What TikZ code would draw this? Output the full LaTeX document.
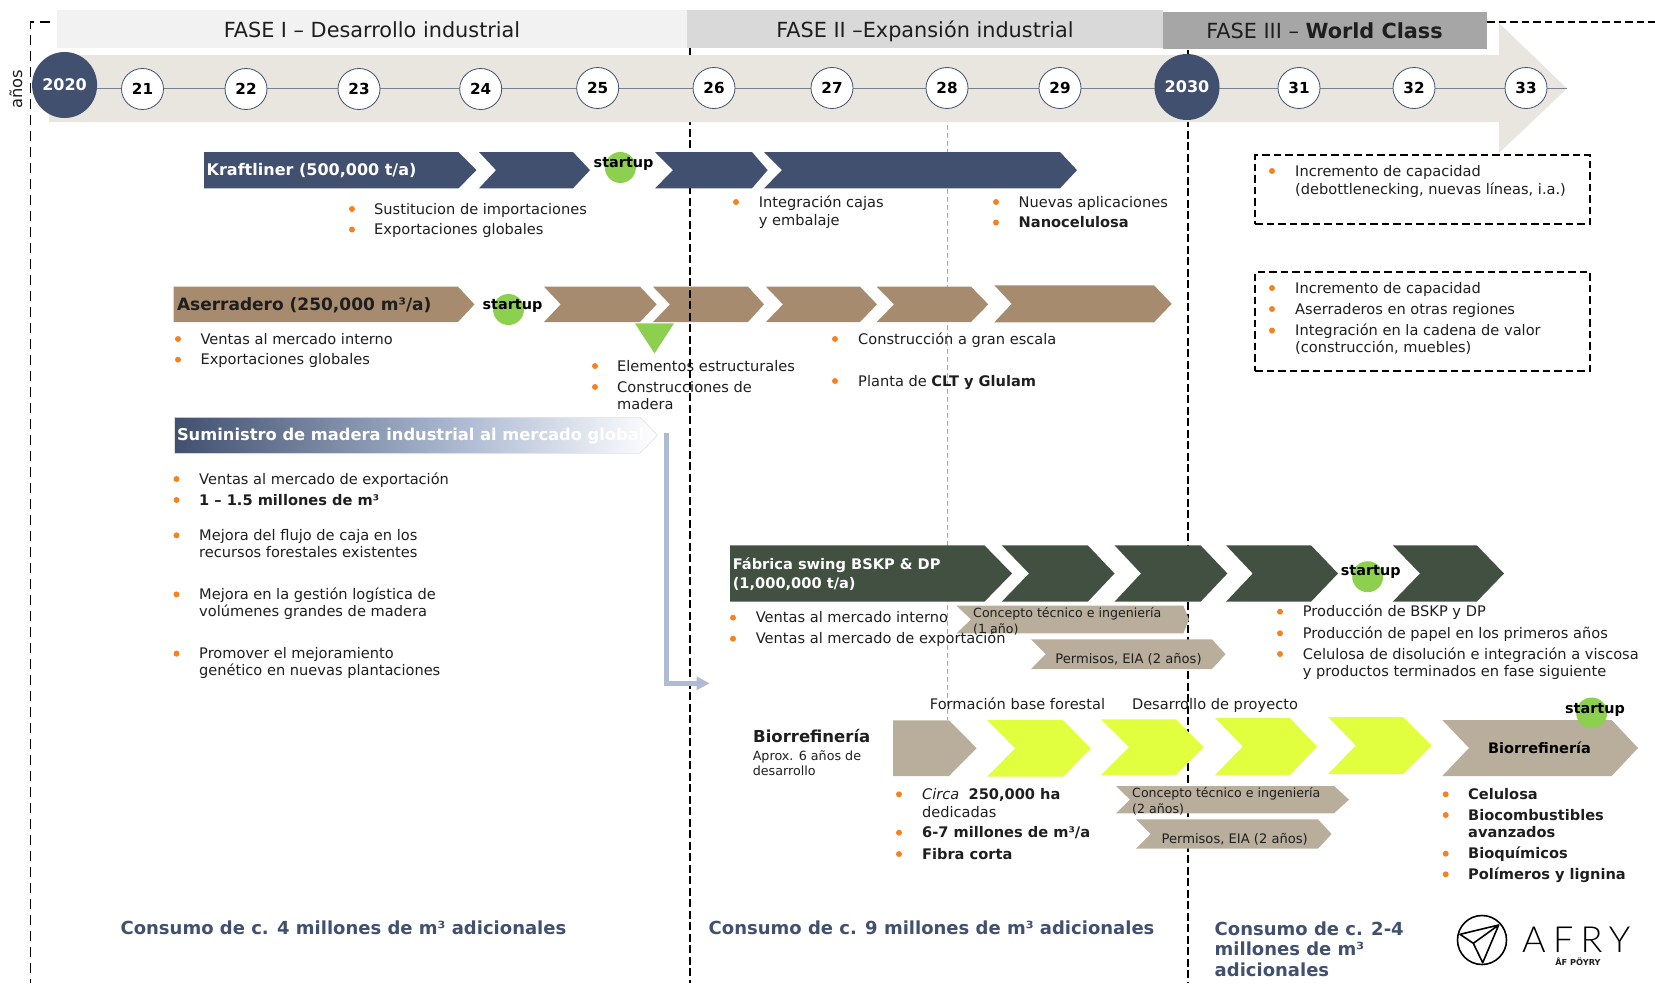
\documentclass[tikz,border=0pt]{standalone}
\usepackage{fontspec}
\setmainfont{DejaVu Sans}
\newfontfamily\afryfont[LetterSpace=20]{Lato Light}
\usetikzlibrary{arrows.meta,shapes.geometric}
\definecolor{navy}{HTML}{41506F}
\definecolor{wood}{HTML}{A78B6E}
\definecolor{forest}{HTML}{415041}
\definecolor{tan}{HTML}{B9AE9C}
\definecolor{lime}{HTML}{E2FF3F}
\definecolor{leaf}{HTML}{8DCF4F}
\definecolor{orangedot}{HTML}{F58220}
\definecolor{sand}{HTML}{E8E6DF}
\definecolor{steel}{HTML}{AEBBD3}
\definecolor{ink}{HTML}{1E1E1E}
\pgfdeclarehorizontalshading{sumshade}{100bp}{color(0bp)=(navy); color(25bp)=(navy); color(55bp)=(steel); color(75bp)=(white); color(100bp)=(white)}
\newcounter{dotc}\newcounter{txtc}
\newcommand{\chv}[8]{\fill[#8] (#2,#6) -- (#4,#6) -- (#5,{(#6+#7)/2}) -- (#4,#7) -- (#2,#7) -- (#3,{(#6+#7)/2}) -- cycle; \coordinate (#1) at ({(#2+#5)/2},{(#6+#7)/2});}
\newcommand{\bl}[2]{\stepcounter{dotc}\node[bulletdot] (dot\thedotc) at (#1,#2) {};}
\newcommand{\tx}[4][bodytxt]{\stepcounter{txtc}\node[#1,anchor=base west] (txt\thetxtc) at (#2,{#3+5}) {#4};}
\newcommand{\yr}[3]{\node[yearnode] (y#3) at (#1,#2) {#3};}
\tikzset{
 bulletdot/.style={circle,fill=orangedot,minimum size=6pt,inner sep=0pt},
 bodytxt/.style={inner sep=0pt,text=ink,font=\fontsize{14.6}{16}\selectfont},
 smalltxt/.style={inner sep=0pt,text=ink,font=\fontsize{12.6}{15}\selectfont},
 permtxt/.style={inner sep=0pt,text=ink,font=\fontsize{13.1}{15}\selectfont},
 tinytxt/.style={inner sep=0pt,text=ink,font=\fontsize{12.7}{14}\selectfont},
 headtxt/.style={inner sep=0pt,text=ink,font=\fontsize{17}{18}\selectfont\bfseries},
 biotxt/.style={inner sep=0pt,text=ink,font=\fontsize{16.5}{18}\selectfont\bfseries},
 whitetxt/.style={inner sep=0pt,text=white,font=\fontsize{14.6}{18}\selectfont\bfseries},
 krafttxt/.style={inner sep=0pt,text=white,font=\fontsize{16}{18}\selectfont\bfseries},
 sumtxt/.style={inner sep=0pt,text=white,font=\fontsize{16.3}{18}\selectfont\bfseries},
 phasetxt/.style={inner sep=0pt,text=ink,font=\fontsize{20.8}{22}\selectfont},
 bottxt/.style={inner sep=0pt,text=navy,font=\fontsize{18}{20}\selectfont\bfseries},
 starttxt/.style={inner sep=0pt,text=black,font=\fontsize{14.4}{16}\selectfont\bfseries},
 yearnode/.style={ellipse,draw=navy,line width=0.8pt,fill=white,minimum width=42pt,minimum height=41pt,inner sep=0pt,text=black,font=\fontsize{15.2}{18}\selectfont\bfseries},
 bigyear/.style={ellipse,fill=navy,minimum width=65pt,minimum height=66pt,inner sep=0pt,text=white,font=\fontsize{16}{18}\selectfont\bfseries},
 leafdot/.style={ellipse,fill=leaf,inner sep=0pt,minimum width=31pt,minimum height=31pt},
 kraftfill/.style={fill=navy},
 woodfill/.style={fill=wood},
 forestfill/.style={fill=forest},
 tanfill/.style={fill=tan},
 limefill/.style={fill=lime},
 bigdash/.style={draw=black,line width=1.7pt,dash pattern=on 8pt off 3.5pt},
 leftdash/.style={draw=black,line width=1.3pt,dash pattern=on 10pt off 6pt},
 boxdash/.style={draw=black,line width=1.5pt,dash pattern=on 7.5pt off 4pt},
 greydash/.style={draw=black!35,line width=0.8pt,dash pattern=on 5pt off 3pt},
}
\begin{document}
\begin{tikzpicture}[x=1pt,y=-1pt]
\useasboundingbox (0,0) rectangle (1655,983);
% guide lines lying under the wood chevrons
\coordinate (g28top) at (947,109);
\coordinate (g28bot) at (947,720);
\draw[greydash] (g28top) -- (g28bot);
% Aserradero row
\chv{as1}{173.7}{173.7}{458}{474.5}{286.7}{322}{woodfill}
\chv{as2}{544}{560.7}{640}{656.7}{286.7}{322}{woodfill}
\chv{as3}{653}{670}{748}{764}{286.7}{322}{woodfill}
\chv{as4}{766}{783}{860}{877}{286.7}{322}{woodfill}
\chv{as5}{876.7}{894}{971}{988.3}{286.7}{322}{woodfill}
\chv{as6}{994.3}{1011.7}{1154}{1171.7}{285.3}{322.3}{woodfill}
\node[isosceles triangle,shape border rotate=-90,isosceles triangle stretches,fill=leaf,inner sep=0pt,minimum width=39pt,minimum height=30pt,anchor=apex] (astri) at (654.5,354) {};
\node[leafdot] (asstart) at (508.5,309.5) {};
\node[starttxt] (asstartt) at (512.5,306) {startup};
\tx[headtxt]{176.8}{305}{Aserradero (250,000 m³/a)}
% texts crossed by the phase lines
\bl{595}{366}\tx{617}{366}{Elementos estructurales}
\bl{595}{387}\tx{617}{387}{Construcciones de}
\tx{617}{404.7}{madera}
\bl{835}{339}\tx{858}{339}{Construcción a gran escala}
\bl{835}{381}\tx{858}{381}{Planta de \textbf{CLT y Glulam}}
\tx{929.7}{704}{Formación base forestal}
\tx{1131.8}{704}{Desarrollo de proyecto}
% phase lines
\coordinate (p2top) at (690,48);\coordinate (p2bot) at (690,983);
\coordinate (p3top) at (1188,50);\coordinate (p3bot) at (1188,983);
\coordinate (lefttop) at (50,22);\coordinate (leftcorner) at (30.7,22);\coordinate (leftbot) at (30.7,983);
\coordinate (righta) at (1487,22);\coordinate (rightb) at (1655,22);
\draw[leftdash] (lefttop) -- (leftcorner) -- (leftbot);
\draw[boxdash] (righta) -- (rightb);
\draw[bigdash] (p2top) -- (p2bot);
\draw[bigdash] (p3top) -- (p3bot);
% phases
\fill[fill=black!5] (56.6,10) rectangle (687,48);
\fill[fill=black!15] (687,10) rectangle (1162.5,48);
\fill[fill=black!35] (1162.5,12) rectangle (1487,49);
\node[phasetxt,anchor=base] (f1) at (372,37) {FASE I – Desarrollo industrial};
\node[phasetxt,anchor=base] (f2) at (925,37) {FASE II –Expansión industrial};
\node[phasetxt,anchor=base] (f3) at (1324.5,38.5) {FASE III – \textbf{World Class}};
% big arrow
\fill[sand] (49,55) -- (1499,55) -- (1499,23) -- (1567,88.5) -- (1499,153) -- (1499,122) -- (49,122) -- cycle;
\coordinate (lineend) at (1567,88.5);
\node[bigyear] (y2020) at (64.6,85) {2020};
\draw[color=black!45!navy!60!white,line width=1.1pt] (y2020.east |- lineend) -- (lineend);
\node[rotate=90,inner sep=0pt,text=ink,font=\fontsize{16.3}{18}\selectfont] (anos) at (16,89) {años};
\node[bigyear] (y2030) at (1187,87) {2030};
\yr{142.5}{89}{21}\yr{246}{89}{22}\yr{359}{89}{23}\yr{480.7}{89}{24}\yr{597.7}{88}{25}\yr{714}{88}{26}\yr{832}{88}{27}\yr{947}{88}{28}\yr{1060}{88}{29}\yr{1299}{88}{31}\yr{1414}{88}{32}\yr{1526}{88}{33}
% Kraftliner
\chv{kr1}{204}{204}{458.5}{476.5}{152}{188.3}{kraftfill}
\chv{kr2}{479}{496}{573}{590}{152}{188.3}{kraftfill}
\chv{kr3}{655}{673}{752}{767.6}{152}{188.3}{kraftfill}
\chv{kr4}{764}{782}{1060}{1077}{152}{188.3}{kraftfill}
\node[leafdot] (krstart) at (620.4,167.5) {};
\node[starttxt] (krstartt) at (623.6,164) {startup};
\tx[krafttxt]{206.5}{170}{Kraftliner (500,000 t/a)}
\bl{352}{209}\tx{374}{209}{Sustitucion de importaciones}
\bl{352}{229.5}\tx{374}{229.5}{Exportaciones globales}
\bl{736}{202}\tx{758.6}{202}{Integración cajas}
\tx{758.6}{220}{y embalaje}
\bl{996}{202}\tx{1018.5}{202}{Nuevas aplicaciones}
\bl{996}{222.5}\tx{1018.5}{222.5}{\textbf{Nanocelulosa}}
% dashed boxes
\node[boxdash,rectangle,minimum width=335pt,minimum height=69pt,anchor=north west,inner sep=0pt,outer sep=0pt] (box1) at (1255,155) {};
\bl{1272}{171}\tx{1295}{171}{Incremento de capacidad}
\tx{1295}{189}{(debottlenecking, nuevas líneas, i.a.)}
\node[boxdash,rectangle,minimum width=335pt,minimum height=99pt,anchor=north west,inner sep=0pt,outer sep=0pt] (box2) at (1255,272) {};
\bl{1272}{288}\tx{1295}{288}{Incremento de capacidad}
\bl{1272}{309}\tx{1295}{309}{Aserraderos en otras regiones}
\bl{1272}{330.5}\tx{1295}{330.5}{Integración en la cadena de valor}
\tx{1295}{347}{(construcción, muebles)}
% Aserradero bullets
\bl{178}{339}\tx{200.4}{339}{Ventas al mercado interno}
\bl{178}{359.7}\tx{200.4}{359.7}{Exportaciones globales}
% Suministro
\path[shading=sumshade,draw=black!12,line width=0.6pt] (174.5,417.3) -- (640,417.3) -- (657.6,435.3) -- (640,453.3) -- (174.5,453.3) -- cycle;
\tx[sumtxt]{176.8}{435.7}{Suministro de madera industrial al mercado global}
\coordinate (sumout) at (666.5,432.7);
\coordinate (sumin) at (709.6,683.3);
\draw[steel,line width=4.5pt,-{Triangle[length=13pt,width=13pt]}] (sumout) |- (sumin);
\bl{176.5}{479}\tx{199}{479}{Ventas al mercado de exportación}
\bl{176.5}{500}\tx{199}{500}{\textbf{1 – 1.5 millones de m³}}
\bl{176.5}{535.3}\tx{199}{535.3}{Mejora del flujo de caja en los}
\tx{199}{552.2}{recursos forestales existentes}
\bl{176.5}{594.4}\tx{199}{594.4}{Mejora en la gestión logística de}
\tx{199}{611.3}{volúmenes grandes de madera}
\bl{176.5}{653.6}\tx{199}{653.6}{Promover el mejoramiento}
\tx{199}{670.5}{genético en nuevas plantaciones}
% Fabrica
\chv{fa1}{730}{730}{984.4}{1012}{545.3}{601.7}{forestfill}
\chv{fa2}{1001.7}{1029}{1087.8}{1114.5}{545.3}{601.7}{forestfill}
\chv{fa3}{1114.5}{1141}{1200.6}{1227.4}{545.3}{601.7}{forestfill}
\chv{fa4}{1226}{1252.7}{1311}{1338}{545.3}{601.7}{forestfill}
\chv{fa5}{1392.7}{1420}{1476.7}{1504}{545.3}{601.7}{forestfill}
\node[leafdot] (fastart) at (1367.7,576.7) {};
\node[starttxt] (fastartt) at (1370.7,572) {startup};
\tx[whitetxt]{732.6}{564.3}{Fábrica swing BSKP \& DP}
\tx[whitetxt]{732.6}{583.3}{(1,000,000 t/a)}
\chv{co1}{956.5}{971}{1183.4}{1189}{605.7}{633.3}{tanfill}
\chv{pe1}{1031}{1045.7}{1212}{1225.5}{639.3}{669}{tanfill}
\bl{733}{617.7}\tx{755.6}{617.7}{Ventas al mercado interno}
\bl{733}{638.7}\tx{755.6}{638.7}{Ventas al mercado de exportación}
\tx[smalltxt]{973}{612.7}{Concepto técnico e ingeniería}
\tx[smalltxt]{973}{628.7}{(1 año)}
\node[permtxt,anchor=base] (pe1t) at (1128.5,663) {Permisos, EIA (2 años)};
\bl{1280}{611.7}\tx{1302.7}{611.7}{Producción de BSKP y DP}
\bl{1280}{633.3}\tx{1302.7}{633.3}{Producción de papel en los primeros años}
\bl{1280}{654}\tx{1302.7}{654}{Celulosa de disolución e integración a viscosa}
\tx{1302.7}{671.7}{y productos terminados en fase siguiente}
% Biorrefineria
\tx[biotxt]{753}{737}{Biorrefinería}
\tx[tinytxt]{752.6}{755}{Aprox. 6 años de}
\tx[tinytxt]{752.6}{770}{desarrollo}
\chv{bi0}{893}{893}{949}{976.6}{720.3}{776}{tanfill}
\chv{bi1}{987}{1015}{1063}{1090.6}{720}{776.7}{limefill}
\chv{bi2}{1101}{1129}{1175.8}{1203.6}{719.3}{775}{limefill}
\chv{bi3}{1215}{1242.7}{1290}{1317}{718}{775}{limefill}
\chv{bi4}{1328}{1355.7}{1403}{1431.7}{717}{774}{limefill}
\chv{bi5}{1442.3}{1469}{1611.7}{1638}{720}{776}{tanfill}
\node[leafdot] (bistart) at (1591.7,713) {};
\node[starttxt] (bistartt) at (1595,710) {startup};
\node[inner sep=0pt,text=black,font=\fontsize{14.5}{16}\selectfont\bfseries,anchor=base] (bilabel) at (1539.5,753) {Biorrefinería};
\bl{899}{794.3}\tx{921.9}{794.3}{\textit{Circa} \ \textbf{250,000 ha}}
\tx{921.9}{812.3}{dedicadas}
\bl{899}{832.7}\tx{921.9}{832.7}{\textbf{6-7 millones de m³/a}}
\bl{899}{854}\tx{921.9}{854}{\textbf{Fibra corta}}
\chv{co2}{1116}{1130}{1334}{1349}{786}{813.3}{tanfill}
\chv{pe2}{1136}{1150.6}{1318}{1331.6}{819.3}{848.7}{tanfill}
\tx[smalltxt]{1132}{792.7}{Concepto técnico e ingeniería}
\tx[smalltxt]{1132}{808}{(2 años)}
\node[permtxt,anchor=base] (pe2t) at (1234.7,843) {Permisos, EIA (2 años)};
\bl{1445.7}{794.3}\tx{1468}{794.3}{\textbf{Celulosa}}
\bl{1445.7}{815}\tx{1468}{815}{\textbf{Biocombustibles}}
\tx{1468}{832.7}{\textbf{avanzados}}
\bl{1445.7}{853.7}\tx{1468}{853.7}{\textbf{Bioquímicos}}
\bl{1445.7}{874.3}\tx{1468}{874.3}{\textbf{Polímeros y lignina}}
% bottom
\tx[bottxt]{120.4}{929}{Consumo de c. 4 millones de m³ adicionales}
\tx[bottxt]{708.5}{929}{Consumo de c. 9 millones de m³ adicionales}
\tx[bottxt]{1214.5}{930}{Consumo de c. 2-4}
\tx[bottxt]{1214.5}{950.7}{millones de m³}
\tx[bottxt]{1214.5}{971}{adicionales}
% logo
\node[circle,draw=black,line width=1.6pt,minimum size=49pt,inner sep=0pt] (logo) at (1482,940) {};
\coordinate (pa) at (1498.7,925);\coordinate (pb) at (1460,934.3);\coordinate (pc) at (1473.3,943.3);\coordinate (pd) at (1482.7,962.7);
\draw[black,line width=1.6pt,line join=round] (pa) -- (pb) -- (pc) -- (pa) -- (pd) -- (pc);
\node[inner sep=0pt,text=black,font=\fontsize{36}{38}\afryfont\selectfont,anchor=base west] (afry) at (1522,952) {AFRY};
\node[inner sep=0pt,text=ink,font=\fontsize{8.2}{10}\selectfont\bfseries,anchor=base] (afsub) at (1578,965) {ÅF PÖYRY};
\end{tikzpicture}
\end{document}
